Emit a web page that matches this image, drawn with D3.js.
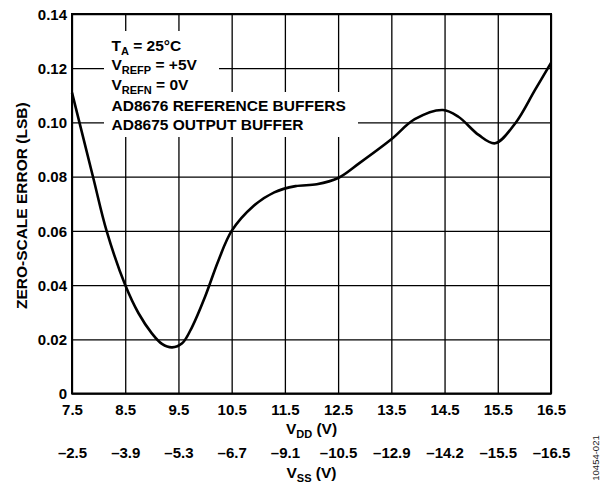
<!DOCTYPE html>
<html>
<head>
<meta charset="utf-8">
<script src="https://cdn.jsdelivr.net/npm/d3@7"></script>
<style>
  body { margin: 0; background: #fff; }
  text { font-family: "Liberation Sans", Arial, sans-serif; font-weight: bold; fill: #000; }
</style>
</head>
<body>
<div id="chart"></div>
<script>
// Values
let vddTicks = [7.5, 8.5, 9.5, 10.5, 11.5, 12.5, 13.5, 14.5, 15.5, 16.5];
let vssLabels = ["\u20132.5", "\u20133.9", "\u20135.3", "\u20136.7", "\u20139.1",
                 "\u201310.5", "\u201312.9", "\u201314.2", "\u201315.5", "\u201316.5"];
let yTicks = [0, 0.02, 0.04, 0.06, 0.08, 0.10, 0.12, 0.14];

// Zero-scale error curve (VDD in volts, error in LSB)
let vdd = [7.5, 7.9, 8.15, 8.5, 8.75, 9.0, 9.19, 9.38, 9.57, 9.76, 10.0, 10.25, 10.5,
           10.9, 11.3, 11.7, 12.1, 12.5, 12.9, 13.5, 13.94, 14.47, 14.76, 15.14, 15.45, 15.83, 16.2, 16.5];
let zeroScaleError = [0.111, 0.0795, 0.060, 0.040, 0.0296, 0.0222, 0.0183, 0.0170, 0.0185, 0.0247, 0.0357, 0.049, 0.060,
                      0.069, 0.0742, 0.0765, 0.0772, 0.0795, 0.085, 0.0938, 0.1012, 0.1046, 0.1021, 0.0954, 0.0923, 0.0997, 0.112, 0.122];

// Legend lines: main text, subscript, remainder
let legendLines = [
    ["T", "A", " = 25\u00B0C"],
    ["V", "REFP", " = +5V"],
    ["V", "REFN", " = 0V"],
    ["AD8676 REFERENCE BUFFERS", "", ""],
    ["AD8675 OUTPUT BUFFER", "", ""]
];

let width = 601, height = 484;
let plot = { left: 72, right: 551, top: 14, bottom: 393.5 };

let svg = d3.select("#chart")
    .append("svg")
    .attr("width", width)
    .attr("height", height);

let x = d3.scaleLinear().domain([7.5, 16.5]).range([plot.left, plot.right]);
let y = d3.scaleLinear().domain([0, 0.14]).range([plot.bottom, plot.top]);

// Grid lines
svg.append("g")
    .attr("transform", `translate(0, ${plot.bottom})`)
    .call(d3.axisBottom(x).tickValues(vddTicks).tickSize(-(plot.bottom - plot.top)).tickFormat(""))
    .call(g => g.select(".domain").remove())
    .call(g => g.selectAll("line").attr("stroke", "#000").attr("stroke-width", 1.3));

svg.append("g")
    .attr("transform", `translate(${plot.left}, 0)`)
    .call(d3.axisLeft(y).tickValues(yTicks).tickSize(-(plot.right - plot.left)).tickFormat(""))
    .call(g => g.select(".domain").remove())
    .call(g => g.selectAll("line").attr("stroke", "#000").attr("stroke-width", 1.3));

// White boxes behind the legend text
svg.append("rect").attr("x", 104).attr("y", 31).attr("width", 115).attr("height", 106).attr("fill", "#fff");
svg.append("rect").attr("x", 104).attr("y", 92).attr("width", 254).attr("height", 45).attr("fill", "#fff");

let legendY = [51, 70, 89.5, 111, 129.5];
let legend = svg.append("g");
legendLines.forEach(function(l, i) {
    let t = legend.append("text")
        .attr("x", 111.5)
        .attr("y", legendY[i])
        .style("font-size", "15.5px");
    t.append("tspan").text(l[0]);
    if (l[1]) {
        t.append("tspan").attr("dy", 4).style("font-size", "11px").text(l[1]);
        t.append("tspan").attr("dy", -4).text(l[2]);
    }
});

// Curve
let line = d3.line()
    .x(function(d, i) { return x(vdd[i]); })
    .y(function(d) { return y(d); })
    .curve(d3.curveCatmullRom.alpha(0.5));

svg.append("path")
    .datum(zeroScaleError)
    .attr("fill", "none")
    .attr("stroke", "#000")
    .attr("stroke-width", 2.6)
    .attr("stroke-linejoin", "round")
    .attr("d", line);

// Plot border
svg.append("rect")
    .attr("x", plot.left)
    .attr("y", plot.top)
    .attr("width", plot.right - plot.left)
    .attr("height", plot.bottom - plot.top)
    .attr("fill", "none")
    .attr("stroke", "#000")
    .attr("stroke-width", 2);

// Y axis labels
svg.append("g")
    .attr("transform", `translate(${plot.left}, 0)`)
    .call(d3.axisLeft(y).tickValues(yTicks).tickSize(0).tickPadding(5)
        .tickFormat(function(d) { return d === 0 ? "0" : d3.format(".2f")(d); }))
    .call(g => g.select(".domain").remove())
    .call(g => g.selectAll("text").attr("dy", "0.35em").style("font-size", "15px"))
    .attr("font-family", null);

// VDD labels
svg.append("g")
    .attr("transform", `translate(0, ${plot.bottom})`)
    .call(d3.axisBottom(x).tickValues(vddTicks).tickSize(0).tickPadding(10.5)
        .tickFormat(d3.format(".1f")))
    .call(g => g.select(".domain").remove())
    .call(g => g.selectAll("text").style("font-size", "15px"))
    .attr("font-family", null);

// VSS labels
svg.append("g")
    .attr("transform", `translate(0, ${plot.bottom + 43})`)
    .call(d3.axisBottom(x).tickValues(vddTicks).tickSize(0).tickPadding(10.5)
        .tickFormat(function(d, i) { return vssLabels[i]; }))
    .call(g => g.select(".domain").remove())
    .call(g => g.selectAll("text").style("font-size", "15px"))
    .attr("font-family", null);

// Axis titles
let midX = (plot.left + plot.right) / 2;

let vddTitle = svg.append("text")
    .attr("x", midX)
    .attr("y", 433.5)
    .style("text-anchor", "middle")
    .style("font-size", "15.5px");
vddTitle.append("tspan").text("V");
vddTitle.append("tspan").attr("dy", 4).style("font-size", "11px").text("DD");
vddTitle.append("tspan").attr("dy", -4).text(" (V)");

let vssTitle = svg.append("text")
    .attr("x", midX)
    .attr("y", 477.5)
    .style("text-anchor", "middle")
    .style("font-size", "15.5px");
vssTitle.append("tspan").text("V");
vssTitle.append("tspan").attr("dy", 4).style("font-size", "11px").text("SS");
vssTitle.append("tspan").attr("dy", -4).text(" (V)");

svg.append("text")
    .attr("transform", `translate(26.5, ${(plot.top + plot.bottom) / 2 + 2}) rotate(-90)`)
    .style("text-anchor", "middle")
    .style("font-size", "15.5px")
    .text("ZERO-SCALE ERROR (LSB)");

// Figure number
svg.append("text")
    .attr("transform", "translate(598.5, 458) rotate(-90)")
    .style("text-anchor", "middle")
    .style("font-size", "9.5px")
    .style("font-weight", "normal")
    .style("fill", "#222")
    .text("10454-021");
</script>
</body>
</html>
